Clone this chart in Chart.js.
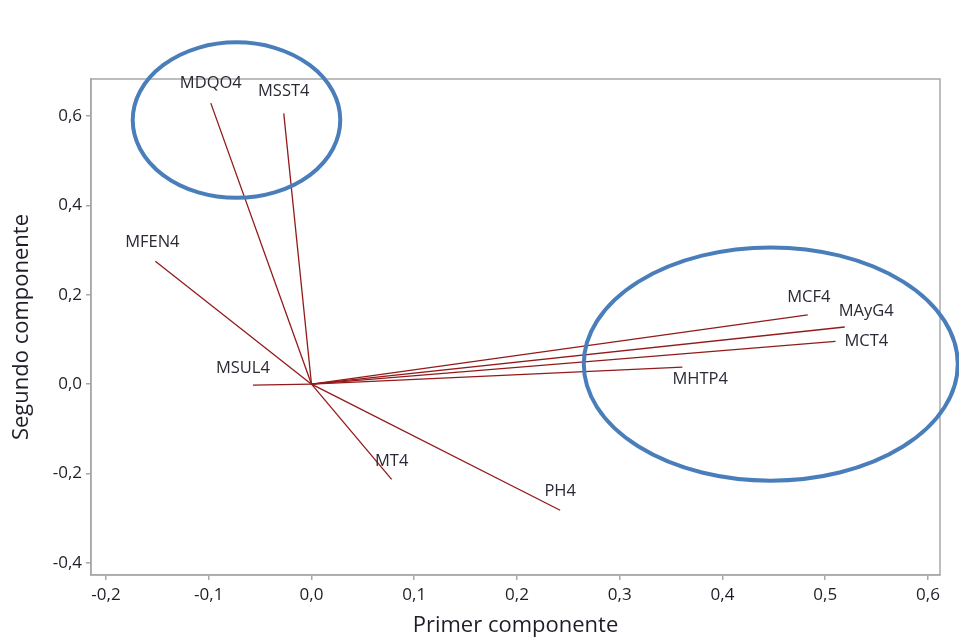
<!DOCTYPE html>
<html>
<head>
<meta charset="utf-8">
<script src="https://cdn.jsdelivr.net/npm/chart.js@4/dist/chart.umd.min.js"></script>
<style>
html,body{margin:0;padding:0;background:#fff;}
#wrap{width:959px;height:639px;position:relative;}
</style>
</head>
<body>
<div id="wrap"><canvas id="c"></canvas></div>
<script>
// Data: loadings (first component, second component)
const variables = ["MDQO4","MSST4","MFEN4","MSUL4","MT4","PH4","MCF4","MAyG4","MCT4","MHTP4"];
const pc1 = [-0.098, -0.027, -0.152, -0.057, 0.078, 0.242, 0.483, 0.519, 0.510, 0.361];
const pc2 = [0.629, 0.606, 0.275, -0.002, -0.213, -0.282, 0.155, 0.128, 0.096, 0.038];
const xTicks = [-0.2,-0.1,0.0,0.1,0.2,0.3,0.4,0.5,0.6];
const yTicks = [-0.4,-0.2,0.0,0.2,0.4,0.6];

// Annotation ellipses (data units)
const ellipseCx = [-0.073, 0.447];
const ellipseCy = [0.591, 0.045];
const ellipseRx = [0.101, 0.182];
const ellipseRy = [0.174, 0.261];

// label offsets in pixels relative to vector tip (style)
const labelOffsets = {
  MDQO4:[0,-20,'center'], MSST4:[0,-22,'center'], MFEN4:[-3,-19,'center'],
  MSUL4:[-10,-17,'center'], MT4:[0,-18,'center'], PH4:[0,-19,'center'],
  MCF4:[1,-18,'center'], MAyG4:[-6,-16,'left'], MCT4:[9,0,'left'], MHTP4:[-10,12,'left']
};

const FONT = "'Open Sans', 'Noto Sans', sans-serif";
const lineColor = '#921a1a';
const frameColor = '#a8a8a8';
const textColor = '#1e1e28';

const datasets = variables.map((v,i)=>({
  label: v,
  data: [{x:0,y:0},{x:pc1[i],y:pc2[i]}],
  showLine: true,
  borderColor: lineColor,
  borderWidth: 1.3,
  pointRadius: 0,
  fill: false
}));

const decorPlugin = {
  id: 'decor',
  afterDraw(chart){
    const ctx = chart.ctx;
    const xs = chart.scales.x, ys = chart.scales.y;
    const a = chart.chartArea;
    ctx.save();
    // frame
    ctx.strokeStyle = frameColor;
    ctx.lineWidth = 1.5;
    ctx.strokeRect(a.left, a.top, a.right - a.left, a.bottom - a.top);
    // labels
    ctx.font = "16.5px " + FONT;
    ctx.fillStyle = '#2a2a36';
    ctx.textBaseline = 'middle';
    variables.forEach((v,i)=>{
      const px = xs.getPixelForValue(pc1[i]);
      const py = ys.getPixelForValue(pc2[i]);
      const o = labelOffsets[v];
      ctx.textAlign = o[2];
      ctx.fillText(v, px + o[0], py + o[1]);
    });
    // ellipses
    ctx.strokeStyle = '#4a7ebb';
    ctx.lineWidth = 4;
    for(let k=0;k<ellipseCx.length;k++){
      const cx = xs.getPixelForValue(ellipseCx[k]);
      const cy = ys.getPixelForValue(ellipseCy[k]);
      const rx = Math.abs(xs.getPixelForValue(ellipseCx[k]+ellipseRx[k]) - cx);
      const ry = Math.abs(ys.getPixelForValue(ellipseCy[k]+ellipseRy[k]) - cy);
      ctx.beginPath();
      ctx.ellipse(cx, cy, rx, ry, 0, 0, Math.PI*2);
      ctx.stroke();
    }
    ctx.restore();
  }
};

const fmt = v => (Math.abs(v) < 1e-9 ? 0 : v).toFixed(1).replace('.', ',');

new Chart(document.getElementById('c'), {
  type: 'scatter',
  data: { datasets },
  options: {
    responsive: true,
    maintainAspectRatio: false,
    animation: false,
    layout: { padding: { top: 79, right: 19, left: 0, bottom: 0 } },
    plugins: { legend: { display: false }, tooltip: { enabled: false } },
    scales: {
      x: {
        type: 'linear',
        min: -0.2146, max: 0.6117,
        afterBuildTicks: s => { s.ticks = xTicks.map(v=>({value:v})); },
        afterFit: s => { s.height = 64; },
        ticks: { callback: fmt, color: textColor, font: { family: FONT, size: 17 }, padding: 5, maxRotation: 0 },
        grid: { drawOnChartArea: false, drawTicks: true, tickLength: 5, color: frameColor, lineWidth: 1.5 },
        border: { display: true, color: frameColor, width: 1.5 },
        title: { display: true, text: 'Primer componente', color: textColor, font: { family: FONT, size: 22 }, padding: { top: 0, bottom: 0 } }
      },
      y: {
        type: 'linear',
        min: -0.427, max: 0.683,
        afterBuildTicks: s => { s.ticks = yTicks.map(v=>({value:v})); },
        afterFit: s => { s.width = 91; },
        ticks: { callback: fmt, color: textColor, font: { family: FONT, size: 17 }, padding: 4 },
        grid: { drawOnChartArea: false, drawTicks: true, tickLength: 5, color: frameColor, lineWidth: 1.5 },
        border: { display: true, color: frameColor, width: 1.5 },
        title: { display: true, text: 'Segundo componente', color: textColor, font: { family: FONT, size: 22 }, padding: { top: 9, bottom: 0 } }
      }
    }
  },
  plugins: [decorPlugin]
});
</script>
</body>
</html>
